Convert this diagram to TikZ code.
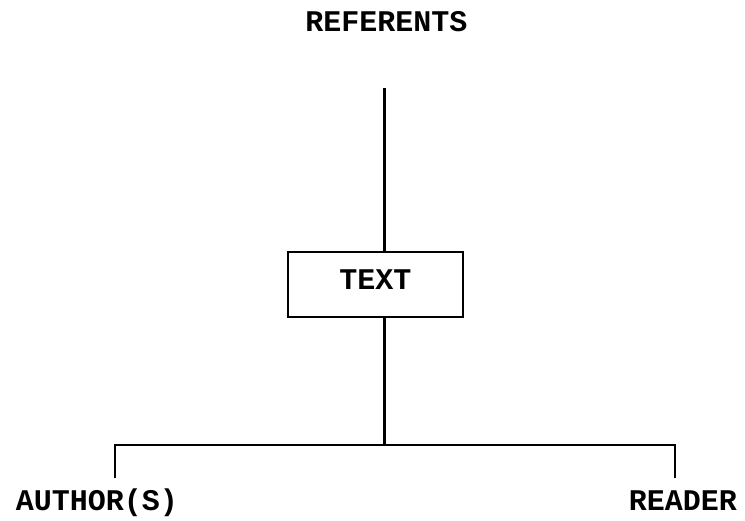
\documentclass[tikz,border=0pt]{standalone}
\usepackage{fontspec}
\setmonofont{Liberation Mono}
\begin{document}
\begin{tikzpicture}[x=1pt,y=-1pt,
  lbl/.style={font=\ttfamily\bfseries\fontsize{30}{36}\selectfont, inner sep=0pt},
  ln/.style={line width=2.6pt, line cap=rect},
  textbox/.style={draw, line width=2.6pt, minimum width=175pt, minimum height=65pt, inner sep=0pt, text depth=9pt, font=\ttfamily\bfseries\fontsize{30}{36}\selectfont}]
\useasboundingbox (0,0) rectangle (745,521);
\node[lbl, anchor=base] (ref) at (386.5,32) {REFERENTS};
\node[textbox] (box) at (375.5,284.5) {TEXT};
\node[lbl, anchor=base] (auth) at (97,511) {AUTHOR(S)};
\node[lbl, anchor=base] (read) at (683,510) {READER};
\coordinate (top) at (384.5,89);
\coordinate (join) at (384.5,445);
\coordinate (lc) at (115,445);
\coordinate (rc) at (675,445);
\coordinate (lb) at (115,477);
\coordinate (rb) at (675,477);
\draw[ln] (top) -- (box.north -| top);
\draw[ln] (box.south -| join) -- (join);
\draw[ln] (lb) -- (lc) -- (rc) -- (rb);
\end{tikzpicture}
\end{document}
